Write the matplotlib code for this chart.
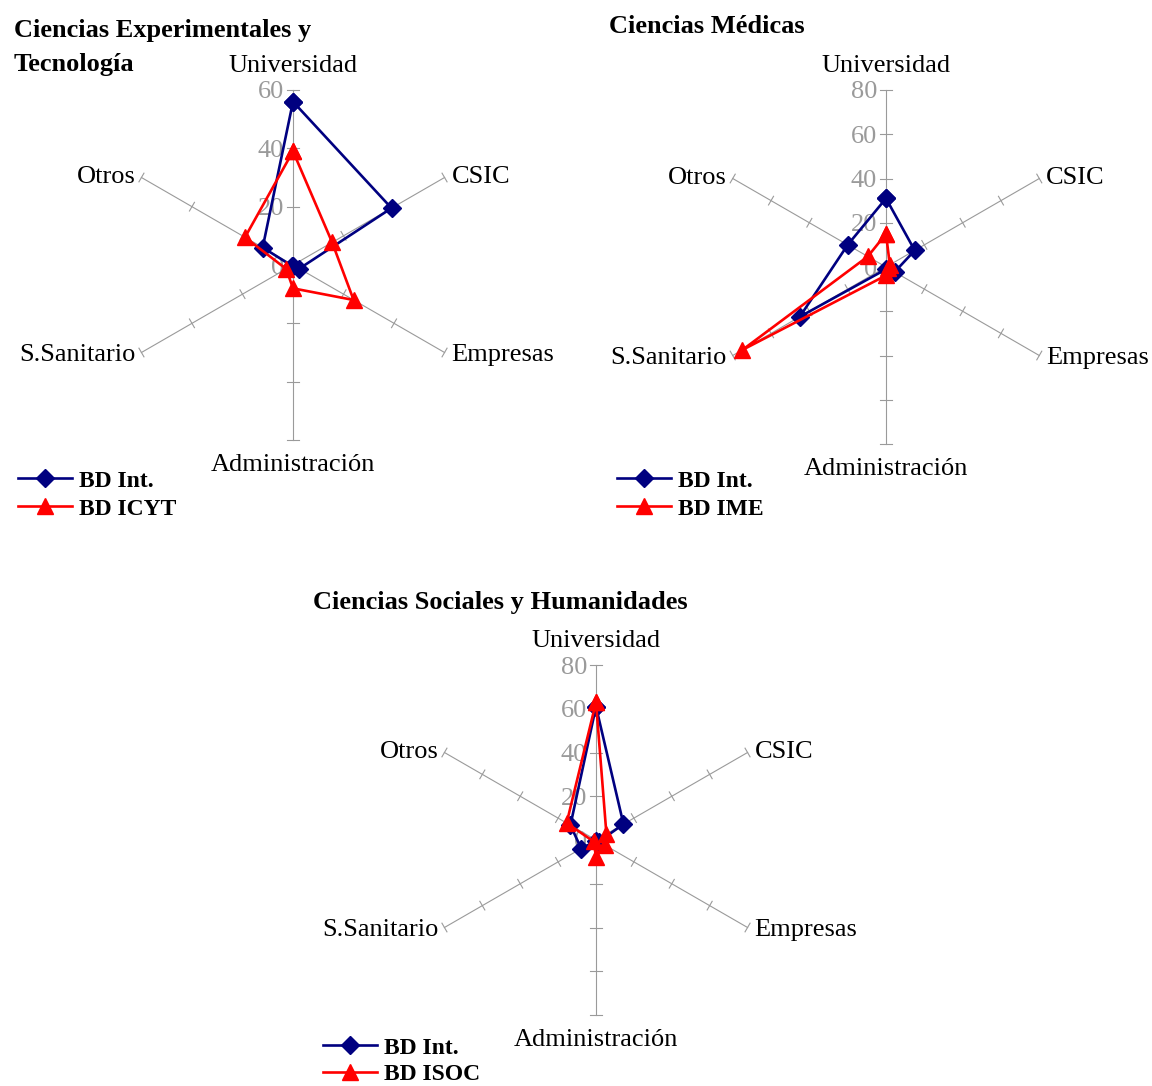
import matplotlib.pyplot as plt
import numpy as np

plt.rcParams['font.family'] = ['Liberation Serif', 'DejaVu Serif']

# datos (porcentajes)
categorias = ["Universidad", "CSIC", "Empresas", "Administración", "S.Sanitario", "Otros"]

cet_int = [56, 39, 2.5, 0.5, 0.5, 12]
cet_icyt = [39, 15.5, 24, 8, 2.7, 19]

med_int = [31, 15, 4.5, 1, 45, 20]
med_ime = [15, 2, 1, 3.8, 75, 9.5]

soc_int = [61, 14.5, 1.5, 0.5, 7.8, 13.5]
soc_isoc = [63, 5.5, 5, 7.6, 1.3, 15.5]

W, H, DPI = 1152, 1086, 100
GRIS = '#9A9A9A'
AZUL = '#000080'
ROJO = '#FF0000'

fig = plt.figure(figsize=(W / DPI, H / DPI), dpi=DPI)

# Universidad arriba y sentido horario
angulos = np.pi / 2 - np.arange(len(categorias)) * np.pi / 3
PT = 72.0 / DPI  # px -> puntos


def radar(cx, cy, radio_px, rmax, paso, serie1, serie2, nombres, titulo, xy_titulo, xy_leyenda,
          esp_leyenda=0.28):
    L = 300
    ppu = radio_px / rmax
    ax = fig.add_axes([(cx - L) / W, 1 - (cy + L) / H, 2 * L / W, 2 * L / H])
    ax.set_xlim(-L / ppu, L / ppu)
    ax.set_ylim(-L / ppu, L / ppu)
    ax.axis('off')

    # radios y marcas
    for k, a in enumerate(angulos):
        c, s = np.cos(a), np.sin(a)
        ax.plot([0, rmax * c], [0, rmax * s], color=GRIS, lw=0.8, zorder=1)
        vertical = abs(c) < 1e-6
        t = (6 if vertical else 5) / ppu
        inicio = 0 if vertical else paso
        for v in range(inicio, rmax + 1, paso):
            px, py = v * c, v * s
            ax.plot([px - s * t, px + s * t], [py + c * t, py - c * t],
                    color=GRIS, lw=0.8, zorder=1)

    # etiquetas de valores
    for v in range(0, rmax + 1, paso):
        ax.annotate(str(v), xy=(0, v), xytext=(-9 * PT, 0), textcoords='offset points',
                    ha='right', va='center_baseline', color=GRIS, fontsize=19, zorder=2)

    # etiquetas de categorias
    offs = [((0, 18), 'center', 'baseline'),
            ((7, 3), 'left', 'center_baseline'),
            ((7, 0), 'left', 'center_baseline'),
            ((0, -14), 'center', 'top'),
            ((-6, 0), 'right', 'center_baseline'),
            ((-6, 3), 'right', 'center_baseline')]
    for nombre, a, ((dx, dy), ha, va) in zip(categorias, angulos, offs):
        ax.annotate(nombre, xy=(rmax * np.cos(a), rmax * np.sin(a)),
                    xytext=(dx * PT, dy * PT), textcoords='offset points',
                    ha=ha, va=va, fontsize=19, zorder=2)

    # series
    lineas = []
    for vals, color, marca, ms, z in [(serie1, AZUL, 'D', 9, 3), (serie2, ROJO, '^', 11, 4)]:
        v = np.array(vals + vals[:1])
        ang = np.concatenate([angulos, angulos[:1]])
        ln, = ax.plot(v * np.cos(ang), v * np.sin(ang), color=color, lw=1.9,
                      marker=marca, markersize=ms, zorder=z)
        lineas.append(ln)

    # titulo, una linea por texto
    for i, linea in enumerate(titulo.split('\n')):
        fig.text(xy_titulo[0] / W, 1 - (xy_titulo[1] + 34 * i) / H, linea, fontsize=19,
                 fontweight='bold', ha='left', va='center_baseline')

    fig.legend(lineas, nombres, loc='upper left',
               bbox_to_anchor=(xy_leyenda[0] / W, 1 - xy_leyenda[1] / H),
               frameon=False, prop={'weight': 'bold', 'size': 17},
               handlelength=2.3, handletextpad=0.3, labelspacing=esp_leyenda,
               borderpad=0, borderaxespad=0, numpoints=1)


radar(293, 265, 175, 60, 20, cet_int, cet_icyt, ["BD Int.", "BD ICYT"],
      "Ciencias Experimentales y\nTecnología", (14, 28), (18, 470))
radar(886, 267, 177, 80, 20, med_int, med_ime, ["BD Int.", "BD IME"],
      "Ciencias Médicas", (609, 24), (617, 470))
radar(596, 840, 175, 80, 20, soc_int, soc_isoc, ["BD Int.", "BD ISOC"],
      "Ciencias Sociales y Humanidades", (313, 600), (323, 1037), esp_leyenda=0.2)

fig.savefig('out.png', dpi=DPI)
